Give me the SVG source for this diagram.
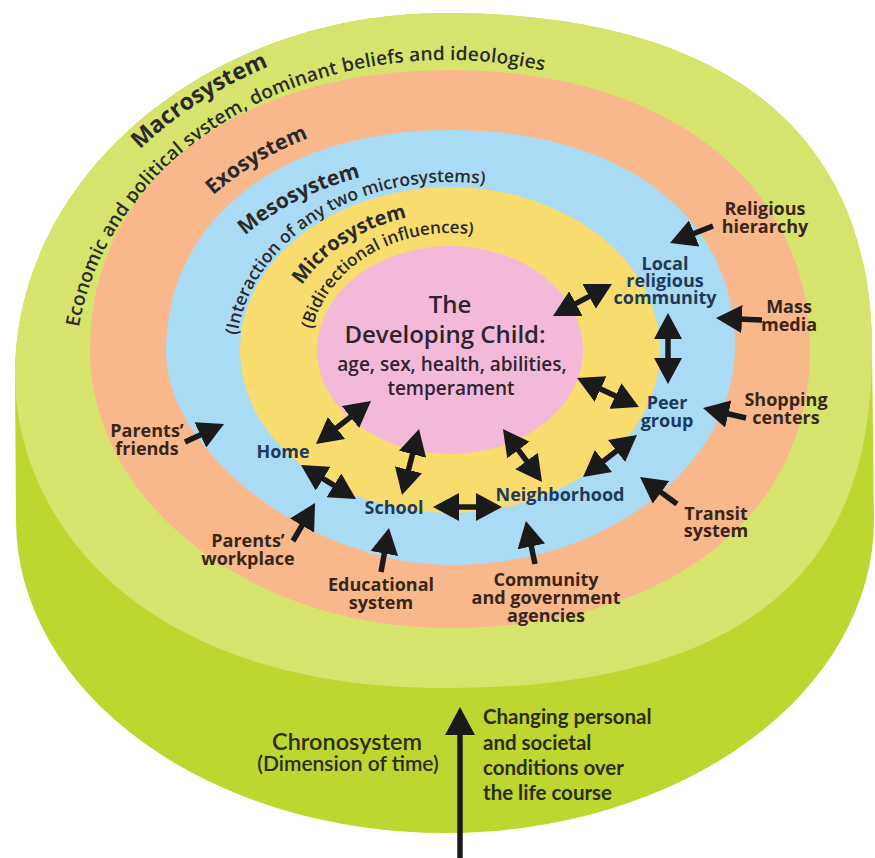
<svg xmlns="http://www.w3.org/2000/svg" width="875" height="858" viewBox="0 0 875 858">
<style>
.ttl{font-family:"Open Sans","Liberation Sans",sans-serif;font-weight:700;fill:#2a2a2a}
.sub{font-family:"Open Sans","Liberation Sans",sans-serif;font-weight:600;fill:#2a2a2a}
.lbl{font-family:"Open Sans","Liberation Sans",sans-serif;font-weight:700;font-size:18px;text-anchor:middle}
.navy{fill:#1d3a5c}
.brown{fill:#3a2619}
.child{font-family:"Open Sans","Liberation Sans",sans-serif;font-weight:600;fill:#2e2430;text-anchor:middle}
.chrono{font-family:Lato,"Liberation Sans",sans-serif;fill:#2a2d12}
.arr{stroke:#1a1a1a;stroke-width:5.5;fill:none}
</style>
<defs>
<marker id="h" viewBox="0 0 26 28" refX="16" refY="14" markerWidth="26" markerHeight="28" markerUnits="userSpaceOnUse" orient="auto-start-reverse"><path d="M0,0 L26,14 L0,28 Z" fill="#1a1a1a"/></marker>
<marker id="h2" viewBox="0 0 28 30" refX="18" refY="15" markerWidth="28" markerHeight="30" markerUnits="userSpaceOnUse" orient="auto-start-reverse"><path d="M0,0 L28,15 L0,30 Z" fill="#1a1a1a"/></marker>
<path id="pMacro" d="M41,372 A406,340 0 0 1 853,372"/>
<path id="pEcon" d="M75,372 A372,312 0 0 1 819,372"/>
<path id="pExo" d="M132,362 A318,250 0 0 1 768,362"/>
<path id="pMeso" d="M184,358 A266,192 0 0 1 716,358"/>
<path id="pInter" d="M236,355 A214,173 0 0 1 664,355"/>
<path id="pMicro" d="M280,355 A170,142 0 0 1 620,355"/>
<path id="pBidir" d="M309,355 A141,122 0 0 1 591,355"/>
</defs>

<g id="chronosystem">
<path d="M445,13 C208,13 15,176 15,375 L16,520 A429,313 0 0 0 874,520 L872,350 C872,130 722,13 445,13 Z" fill="#bed630"/>
<text class="chrono" x="347" y="750" font-size="23.5" font-weight="600" text-anchor="middle">Chronosystem</text>
<text class="chrono" x="348" y="771" font-size="21" font-weight="600" text-anchor="middle">(Dimension of time)</text>
<text class="chrono" font-size="20.5" font-weight="700" x="483"><tspan x="483" y="724">Changing personal</tspan><tspan x="483" y="750">and societal</tspan><tspan x="483" y="775">conditions over</tspan><tspan x="483" y="800">the life course</tspan></text>
</g>

<g id="macrosystem">
<path d="M445,13 C208,13 15,176 15,375 C15,516 135,688 445,688 C787,688 872,536 872,350 C872,130 722,13 445,13 Z" fill="#d6e46e"/>
<text class="ttl" font-size="23"><textPath href="#pMacro" startOffset="250">Macrosystem</textPath></text>
<text class="sub" font-size="19" letter-spacing="0.2"><textPath href="#pEcon" startOffset="45">Economic and political system, dominant beliefs and ideologies</textPath></text>
</g>

<g id="exosystem">
<path d="M450,70 C234,70 90,182 90,350 C90,503 251,628 450,628 C666,628 810,517 810,350 C810,182 666,70 450,70 Z" fill="#f8b88c"/>
<text class="ttl" font-size="21"><textPath href="#pExo" startOffset="191">Exosystem</textPath></text>
</g>

<g id="mesosystem">
<path d="M451,130 C280,130 166,219 166,352 C166,454 314,565 451,565 C607,565 735,466 735,345 C735,216 621,130 451,130 Z" fill="#aadbf4"/>
<text class="ttl" font-size="21"><textPath href="#pMeso" startOffset="141">Mesosystem</textPath></text>
<text class="sub" font-size="17.5"><textPath href="#pInter" startOffset="20">(Interaction of any two microsystems)</textPath></text>
</g>

<g id="microsystem">
<ellipse cx="450" cy="350" rx="210" ry="163" fill="#f9dc6e"/>
<text class="ttl" font-size="20"><textPath href="#pMicro" startOffset="74">Microsystem</textPath></text>
<text class="sub" font-size="17"><textPath href="#pBidir" startOffset="26">(Bidirectional influences)</textPath></text>
</g>

<g id="child">
<ellipse cx="450" cy="350" rx="133" ry="104" fill="#f3b9d8"/>
<text class="child" x="450" y="313" font-size="24">The</text>
<text class="child" x="445" y="343" font-size="24">Developing Child:</text>
<text class="child" x="452" y="371" font-size="19">age, sex, health, abilities,</text>
<text class="child" x="451" y="395" font-size="19">temperament</text>
</g>

<g id="religious-hierarchy"><text class="lbl brown" x="765" y="215">Religious</text><text class="lbl brown" x="765" y="233">hierarchy</text></g>
<g id="local-religious-community"><text class="lbl navy" x="665" y="270">Local</text><text class="lbl navy" x="665" y="287">religious</text><text class="lbl navy" x="665" y="304">community</text></g>
<g id="mass-media"><text class="lbl brown" x="789" y="313">Mass</text><text class="lbl brown" x="789" y="331">media</text></g>
<g id="peer-group"><text class="lbl navy" x="667" y="409">Peer</text><text class="lbl navy" x="667" y="427">group</text></g>
<g id="shopping-centers"><text class="lbl brown" x="786" y="406">Shopping</text><text class="lbl brown" x="786" y="424">centers</text></g>
<g id="transit-system"><text class="lbl brown" x="716" y="520">Transit</text><text class="lbl brown" x="716" y="537">system</text></g>
<g id="neighborhood"><text class="lbl navy" x="560" y="501">Neighborhood</text></g>
<g id="community-agencies"><text class="lbl brown" x="546" y="586">Community</text><text class="lbl brown" x="546" y="604">and government</text><text class="lbl brown" x="546" y="622">agencies</text></g>
<g id="school"><text class="lbl navy" x="394" y="514">School</text></g>
<g id="educational-system"><text class="lbl brown" x="381" y="591">Educational</text><text class="lbl brown" x="381" y="609">system</text></g>
<g id="home"><text class="lbl navy" x="283" y="458">Home</text></g>
<g id="parents-friends"><text class="lbl brown" x="147" y="437">Parents’</text><text class="lbl brown" x="147" y="455">friends</text></g>
<g id="parents-workplace"><text class="lbl brown" x="248" y="547">Parents’</text><text class="lbl brown" x="248" y="565">workplace</text></g>

<g id="connectors">
<line class="arr" x1="561.8" y1="311.2" x2="603.2" y2="288.8" marker-start="url(#h)" marker-end="url(#h)"/>
<line class="arr" x1="668" y1="323" x2="668" y2="374" marker-start="url(#h)" marker-end="url(#h)"/>
<line class="arr" x1="586.1" y1="382.2" x2="629.9" y2="402.8" marker-start="url(#h)" marker-end="url(#h)"/>
<line class="arr" x1="590.9" y1="470.9" x2="629.1" y2="441.1" marker-start="url(#h)" marker-end="url(#h)"/>
<line class="arr" x1="508.9" y1="437.1" x2="536.1" y2="473.9" marker-start="url(#h)" marker-end="url(#h)"/>
<line class="arr" x1="443" y1="507" x2="492" y2="507" marker-start="url(#h)" marker-end="url(#h)"/>
<line class="arr" x1="416.5" y1="438.7" x2="404.5" y2="485.3" marker-start="url(#h)" marker-end="url(#h)"/>
<line class="arr" x1="309.5" y1="470.3" x2="347.5" y2="493.7" marker-start="url(#h)" marker-end="url(#h)"/>
<line class="arr" x1="323.9" y1="437.8" x2="363.1" y2="407.2" marker-start="url(#h)" marker-end="url(#h)"/>
<line class="arr" x1="713" y1="226" x2="679.3" y2="239.3" marker-end="url(#h)"/>
<line class="arr" x1="762" y1="320" x2="726" y2="318.4" marker-end="url(#h)"/>
<line class="arr" x1="746" y1="418" x2="712.7" y2="410.3" marker-end="url(#h)"/>
<line class="arr" x1="677" y1="504" x2="648.1" y2="482.9" marker-end="url(#h)"/>
<line class="arr" x1="535" y1="564" x2="528" y2="530.8" marker-end="url(#h)"/>
<line class="arr" x1="381" y1="572" x2="387.2" y2="537.8" marker-end="url(#h)"/>
<line class="arr" x1="293" y1="541" x2="310" y2="511.7" marker-end="url(#h)"/>
<line class="arr" x1="185" y1="442" x2="214.9" y2="428.2" marker-end="url(#h)"/>
<line class="arr" x1="460" y1="858" x2="460" y2="717" marker-end="url(#h2)"/>
</g>
</svg>
